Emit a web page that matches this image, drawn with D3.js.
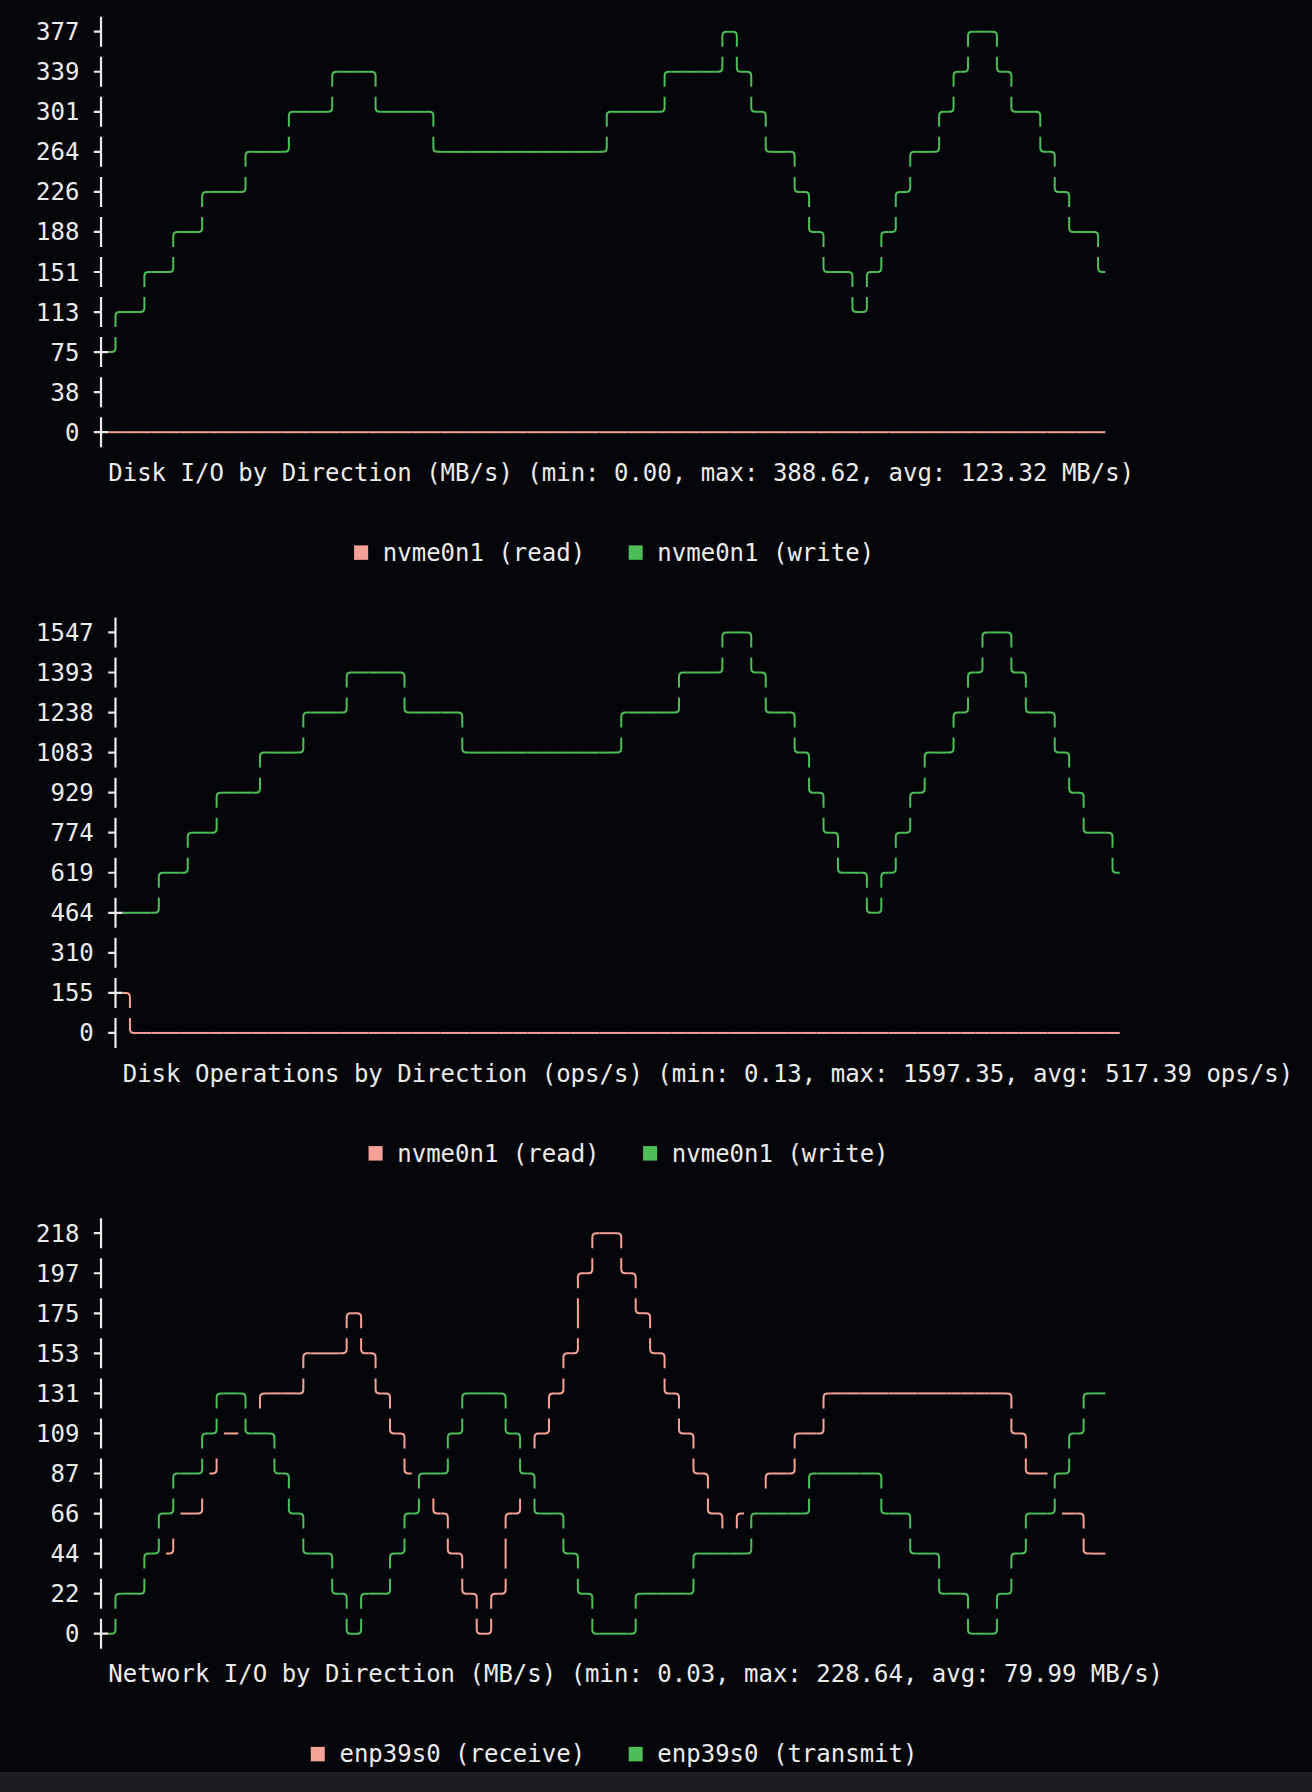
<!DOCTYPE html>
<html>
<head>
<meta charset="utf-8">
<script src="https://cdn.jsdelivr.net/npm/d3@7"></script>
<style>
  html, body { margin: 0; padding: 0; background: #040508; }
  svg { display: block; }
</style>
</head>
<body>
<script>
// terminal grid
const CW = 14.45;     // char width
const RH = 40.05;     // line height
const LEFT = 36;      // left padding
const ROW0 = 31.7;    // centre of first text row
const HALF = 15;      // half height of a box-drawing glyph
const R = 4;          // corner radius

const RED = '#f5a196';
const GREEN = '#4dbd59';
const FG = '#ececec';

// ---- chart 1: disk throughput
const diskIoTicks = [377, 339, 301, 264, 226, 188, 151, 113, 75, 38, 0];
const diskIoRead = [0, 0, 0, 0, 0, 0, 0, 0, 0, 0, 0, 0, 0, 0, 0, 0, 0, 0, 0, 0,
  0, 0, 0, 0, 0, 0, 0, 0, 0, 0, 0, 0, 0, 0, 0, 0, 0, 0, 0, 0,
  0, 0, 0, 0, 0, 0, 0, 0, 0, 0, 0, 0, 0, 0, 0, 0, 0, 0, 0, 0,
  0, 0, 0, 0, 0, 0, 0, 0, 0, 0];
const diskIoWrite = [75, 113, 113, 151, 151, 188, 188, 226, 226, 226,
  264, 264, 264, 301, 301, 301, 339, 339, 339, 301,
  301, 301, 301, 264, 264, 264, 264, 264, 264, 264,
  264, 264, 264, 264, 264, 301, 301, 301, 301, 339,
  339, 339, 339, 377, 339, 301, 264, 264, 226, 188,
  151, 151, 113, 151, 188, 226, 264, 264, 301, 339,
  377, 377, 339, 301, 301, 264, 226, 188, 188, 151];

// ---- chart 2: disk operations
const diskOpsTicks = [1547, 1393, 1238, 1083, 929, 774, 619, 464, 310, 155, 0];
const diskOpsRead = [155, 0, 0, 0, 0, 0, 0, 0, 0, 0, 0, 0, 0, 0, 0, 0, 0, 0, 0, 0,
  0, 0, 0, 0, 0, 0, 0, 0, 0, 0, 0, 0, 0, 0, 0, 0, 0, 0, 0, 0,
  0, 0, 0, 0, 0, 0, 0, 0, 0, 0, 0, 0, 0, 0, 0, 0, 0, 0, 0, 0,
  0, 0, 0, 0, 0, 0, 0, 0, 0, 0];
const diskOpsWrite = [464, 464, 464, 619, 619, 774, 774, 929, 929, 929,
  1083, 1083, 1083, 1238, 1238, 1238, 1393, 1393, 1393, 1393,
  1238, 1238, 1238, 1238, 1083, 1083, 1083, 1083, 1083, 1083,
  1083, 1083, 1083, 1083, 1083, 1238, 1238, 1238, 1238, 1393,
  1393, 1393, 1547, 1547, 1393, 1238, 1238, 1083, 929, 774,
  619, 619, 464, 619, 774, 929, 1083, 1083, 1238, 1393,
  1547, 1547, 1393, 1238, 1238, 1083, 929, 774, 774, 619];

// ---- chart 3: network
const netTicks = [218, 197, 175, 153, 131, 109, 87, 66, 44, 22, 0];
const netReceive = [0, 22, 22, 44, 44, 66, 66, 87, 109, 109,
  109, 131, 131, 131, 153, 153, 153, 175, 153, 131,
  109, 87, 87, 66, 44, 22, 0, 22, 66, 87,
  109, 131, 153, 197, 218, 218, 197, 175, 153, 131,
  109, 87, 66, 44, 66, 66, 87, 87, 109, 109,
  131, 131, 131, 131, 131, 131, 131, 131, 131, 131,
  131, 131, 131, 109, 87, 87, 66, 66, 44, 44];
const netTransmit = [0, 22, 22, 44, 66, 87, 87, 109, 131, 131,
  109, 109, 87, 66, 44, 44, 22, 0, 22, 22,
  44, 66, 87, 87, 109, 131, 131, 131, 109, 87,
  66, 66, 44, 22, 0, 0, 0, 22, 22, 22,
  22, 44, 44, 44, 44, 66, 66, 66, 66, 87,
  87, 87, 87, 87, 66, 66, 44, 44, 22, 22,
  0, 0, 22, 44, 66, 66, 87, 109, 131, 131];

const charts = [
  {
    topRow: 0,
    ticks: diskIoTicks,
    title: 'Disk I/O by Direction (MB/s) (min: 0.00, max: 388.62, avg: 123.32 MB/s)',
    series: [
      { name: 'nvme0n1 (read)', color: RED, values: diskIoRead },
      { name: 'nvme0n1 (write)', color: GREEN, values: diskIoWrite }
    ]
  },
  {
    topRow: 15,
    ticks: diskOpsTicks,
    title: 'Disk Operations by Direction (ops/s) (min: 0.13, max: 1597.35, avg: 517.39 ops/s)',
    series: [
      { name: 'nvme0n1 (read)', color: RED, values: diskOpsRead },
      { name: 'nvme0n1 (write)', color: GREEN, values: diskOpsWrite }
    ]
  },
  {
    topRow: 30,
    ticks: netTicks,
    title: 'Network I/O by Direction (MB/s) (min: 0.03, max: 228.64, avg: 79.99 MB/s)',
    series: [
      { name: 'enp39s0 (receive)', color: RED, values: netReceive },
      { name: 'enp39s0 (transmit)', color: GREEN, values: netTransmit }
    ]
  }
];

const svg = d3.select('body')
  .append('svg')
  .attr('width', 1312)
  .attr('height', 1792);

svg.append('rect')
  .attr('width', 1312)
  .attr('height', 1792)
  .attr('fill', '#040508');

// grid scales: character column / text row -> pixels
const colX = d3.scaleLinear().domain([0, 1]).range([LEFT, LEFT + CW]);
const rowY = d3.scaleLinear().domain([0, 1]).range([ROW0, ROW0 + RH]);

// path for one box-drawing cell
const glyph = (ch, c, r) => {
  const x0 = colX(c), x1 = colX(c + 1), cx = (x0 + x1) / 2, cy = rowY(r);
  const t = cy - HALF, b = cy + HALF;
  switch (ch) {
    case '─': return `M${x0},${cy}H${x1}`;
    case '│': return `M${cx},${t}V${b}`;
    case '╭': return `M${x1},${cy}H${cx + R}Q${cx},${cy} ${cx},${cy + R}V${b}`;
    case '╮': return `M${x0},${cy}H${cx - R}Q${cx},${cy} ${cx},${cy + R}V${b}`;
    case '╰': return `M${cx},${t}V${cy - R}Q${cx},${cy} ${cx + R},${cy}H${x1}`;
    case '╯': return `M${cx},${t}V${cy - R}Q${cx},${cy} ${cx - R},${cy}H${x0}`;
    case '┤': return `M${cx},${t}V${b}M${x0},${cy}H${cx}`;
    case '┼': return `M${cx},${t}V${b}M${x0},${cy}H${x1}`;
    default: return '';
  }
};

const text = (g, str, c, r, color, anchor) => g.append('text')
  .attr('x', colX(c))
  .attr('y', rowY(r) + 8.5)
  .attr('fill', color)
  .attr('text-anchor', anchor || 'start')
  .attr('font-family', '"DejaVu Sans Mono", "Liberation Mono", monospace')
  .attr('font-size', 24)
  .attr('xml:space', 'preserve')
  .text(str);

charts.forEach(chart => {
  const g = svg.append('g');
  const nRows = chart.ticks.length;
  const labelW = d3.max(chart.ticks, d => String(d).length);
  const axisCol = labelW + 1;
  const offset = axisCol + 1;
  const n = chart.series[0].values.length;

  // value -> row inside this chart (0 = top row)
  const y = d3.scaleLinear()
    .domain([0, chart.ticks[0]])
    .range([chart.topRow + nRows - 1, chart.topRow]);
  const rowOf = v => Math.round(y(v));
  // point index -> character column
  const x = d3.scaleLinear().domain([0, n - 1]).range([offset, offset + n - 1]);

  // cells: later series overwrite earlier ones, like a terminal grid
  const cells = new Map();
  const put = (c, r, ch, color) => cells.set(`${c},${r}`, { c, r, ch, color });

  // y axis
  chart.ticks.forEach((t, k) => {
    put(axisCol, chart.topRow + k, '┤', FG);
    text(g, String(t), labelW, chart.topRow + k, FG, 'end');
  });
  chart.series.forEach(s => put(axisCol, rowOf(s.values[0]), '┼', FG));

  chart.series.forEach(s => {
    const v = s.values;
    for (let i = 0; i < n - 1; i++) {
      const c = x(i);
      const r0 = rowOf(v[i]), r1 = rowOf(v[i + 1]);
      if (r0 === r1) {
        put(c, r0, '─', s.color);
        continue;
      }
      // r grows downwards: r1 < r0 means the value rises
      put(c, r1, r1 < r0 ? '╭' : '╰', s.color);
      put(c, r0, r1 < r0 ? '╯' : '╮', s.color);
      for (let r = Math.min(r0, r1) + 1; r < Math.max(r0, r1); r++) {
        put(c, r, '│', s.color);
      }
    }
  });

  g.append('g')
    .selectAll('path')
    .data(Array.from(cells.values()))
    .join('path')
    .attr('d', d => glyph(d.ch, d.c, d.r))
    .attr('fill', 'none')
    .attr('stroke', d => d.color)
    .attr('stroke-width', d => d.color === FG ? 2.2 : 2);

  // title under the plot
  const titleRow = chart.topRow + nRows;
  text(g, chart.title, offset, titleRow, FG);

  // legend, centred under the plot area
  const items = chart.series.map(s => 2 + s.name.length);
  const legendLen = d3.sum(items) + 3 * (items.length - 1);
  let lc = offset + Math.ceil((n - 1 - legendLen) / 2);
  const legendRow = titleRow + 2;
  chart.series.forEach((s, i) => {
    g.append('rect')
      .attr('x', colX(lc) + 0.2)
      .attr('y', rowY(legendRow) - 7)
      .attr('width', CW - 0.4)
      .attr('height', 14.5)
      .attr('fill', s.color);
    text(g, s.name, lc + 2, legendRow, FG);
    lc += items[i] + 3;
  });
});

// terminal status strip at the bottom
svg.append('rect')
  .attr('x', 0)
  .attr('y', 1772)
  .attr('width', 1312)
  .attr('height', 20)
  .attr('fill', '#1c1d20');
</script>
</body>
</html>
